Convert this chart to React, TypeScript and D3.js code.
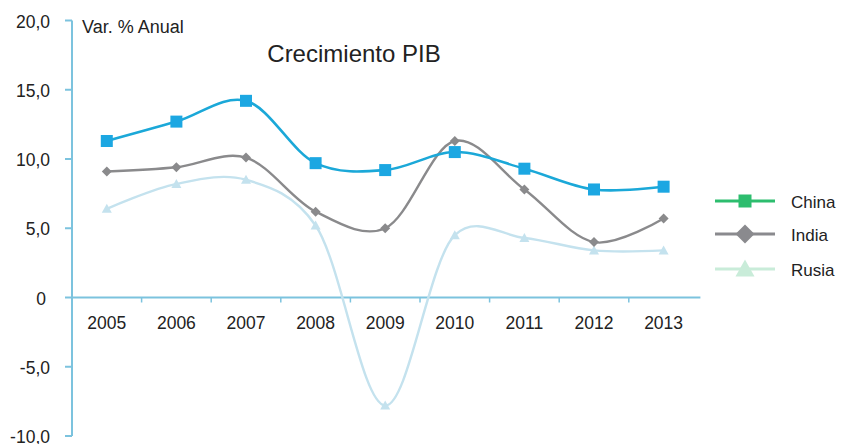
import React from 'react';
import * as d3 from 'd3';

const years = ['2005', '2006', '2007', '2008', '2009', '2010', '2011', '2012', '2013'];
const china = [11.3, 12.7, 14.2, 9.7, 9.2, 10.5, 9.3, 7.8, 8.0];
const india = [9.1, 9.4, 10.1, 6.2, 5.0, 11.3, 7.8, 4.0, 5.7];
const rusia = [6.4, 8.2, 8.5, 5.2, -7.8, 4.5, 4.3, 3.4, 3.4];
const yTicks = [-10, -5, 0, 5, 10, 15, 20];

const FONT = 'Liberation Sans, Arial, sans-serif';

const series = [
  { name: 'China', values: china, line: '#1ba8d8', marker: '#1ca7e2', legend: '#2dbd6e', shape: 'square', width: 2.6 },
  { name: 'India', values: india, line: '#8a8a8c', marker: '#8a8a8c', legend: '#8a8a8e', shape: 'diamond', width: 2.4 },
  { name: 'Rusia', values: rusia, line: '#c4e2ee', marker: '#c4e2ee', legend: '#c9ecd9', shape: 'triangle', width: 2.4 },
];

function Marker({ shape, x, y, color, size }: { shape: string; x: number; y: number; color: string; size: number }) {
  if (shape === 'square') {
    return <rect x={x - size / 2} y={y - size / 2} width={size} height={size} fill={color} />;
  }
  if (shape === 'diamond') {
    const s = size / 2;
    return <path d={`M${x},${y - s}L${x + s},${y}L${x},${y + s}L${x - s},${y}Z`} fill={color} />;
  }
  const s = size / 2;
  return <path d={`M${x},${y - s}L${x + s},${y + s * 0.8}L${x - s},${y + s * 0.8}Z`} fill={color} />;
}

// "-5,0" style labels, with a plain hyphen like the original
const fmt = (t: number) => (t === 0 ? '0' : t.toFixed(1).replace('.', ','));

export default function App() {
  const axisX = 72;
  const x = d3.scaleBand().domain(years).range([axisX, axisX + 9 * 69.6]);
  const y = d3.scaleLinear().domain([-10, 20]).range([436, 20.5]);
  const cx = (d: string) => (x(d) as number) + x.bandwidth() / 2;

  const line = d3.line<number>()
    .x((_, i) => cx(years[i]))
    .y(v => y(v))
    .curve(d3.curveCatmullRom.alpha(0.2));

  const axisColor = '#7cc3de';
  const legendRows = [201, 234, 269];

  return (
    <svg width={841} height={444} style={{ position: 'absolute', left: 0, top: 0, background: '#fff' }} fontFamily={FONT}>
      {/* y axis */}
      <line x1={axisX} x2={axisX} y1={y(20)} y2={y(-10)} stroke={axisColor} strokeWidth={2} />
      {yTicks.map(t => (
        <g key={t}>
          <line x1={axisX - 7} x2={axisX} y1={y(t)} y2={y(t)} stroke={axisColor} strokeWidth={2} />
          <text x={t === 0 ? 46 : 50} y={y(t) + 7} textAnchor="end" fontSize={17.5} fill="#222">
            {fmt(t)}
          </text>
        </g>
      ))}
      {/* x axis */}
      <line x1={axisX} x2={x.range()[1] + 2} y1={y(0)} y2={y(0)} stroke={axisColor} strokeWidth={2} />
      {years.slice(1).map(d => (
        <line key={d} x1={x(d)} x2={x(d)} y1={y(0)} y2={y(0) + 5} stroke={axisColor} strokeWidth={1.5} />
      ))}
      {years.map(d => (
        <text key={d} x={cx(d)} y={y(0) + 31} textAnchor="middle" fontSize={17.5} fill="#222">{d}</text>
      ))}
      <text x={82} y={33} fontSize={18} fill="#222">Var. % Anual</text>
      <text x={354} y={62} textAnchor="middle" fontSize={24} fill="#222">Crecimiento PIB</text>

      {/* series, drawn back to front */}
      {[...series].reverse().map(s => (
        <g key={s.name}>
          <path d={line(s.values) || ''} fill="none" stroke={s.line} strokeWidth={s.width} />
          {s.values.map((v, i) => (
            <Marker key={i} shape={s.shape} x={cx(years[i])} y={y(v)} color={s.marker}
              size={s.shape === 'square' ? 12 : 10} />
          ))}
        </g>
      ))}

      {/* legend */}
      {series.map((s, i) => (
        <g key={s.name}>
          <line x1={715} x2={775} y1={legendRows[i]} y2={legendRows[i]} stroke={s.legend} strokeWidth={3} />
          <Marker shape={s.shape} x={745} y={legendRows[i]} color={s.legend} size={s.shape === 'square' ? 13 : 19} />
          <text x={791} y={legendRows[i] + 7} fontSize={17} fill="#222">{s.name}</text>
        </g>
      ))}
    </svg>
  );
}
